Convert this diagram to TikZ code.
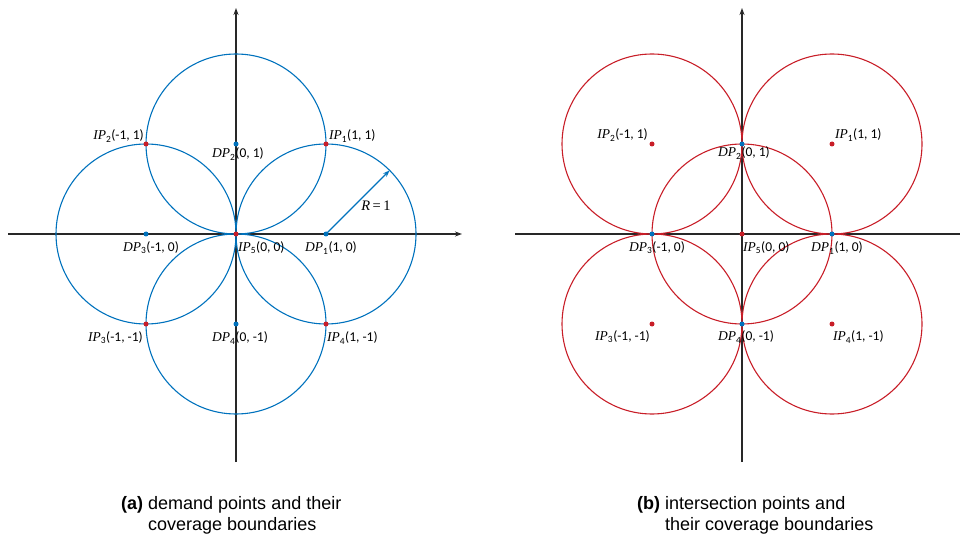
\documentclass[tikz,border=0pt]{standalone}
\usepackage{fontspec}
\setmainfont{Carlito}
\newfontfamily\capfont{Liberation Sans}
\newfontfamily\ifam{Liberation Serif}
\usetikzlibrary{arrows.meta}
\definecolor{cblue}{RGB}{0,114,189}
\definecolor{cred}{RGB}{200,30,40}
\definecolor{axisc}{RGB}{40,40,40}
\newcommand{\plab}[3]{{\ifam\itshape #1}\textsubscript{#2}#3}
\begin{document}
\begin{tikzpicture}[x=1pt,y=-1pt,
  axis/.style={draw=axisc, line width=1.2pt},
  axarrow/.style={-{Stealth[length=7pt,width=5pt]}},
  bcirc/.style={draw=cblue,line width=1.1pt},
  rcirc/.style={draw=cred,line width=1.1pt},
  bdot/.style={circle,fill=cblue,inner sep=0pt,minimum size=5pt},
  rdot/.style={circle,fill=cred,inner sep=0pt,minimum size=5pt},
  lab/.style={font=\fontsize{13.5}{15}\selectfont,inner sep=0pt},
  captxt/.style={font=\capfont\fontsize{18}{22}\selectfont, anchor=base west, inner sep=0pt}]
\useasboundingbox (0,0) rectangle (960,537);

% ---------- left panel ----------
\coordinate (LxS) at (8,234);
\coordinate (LxE) at (462,234);
\coordinate (LyS) at (236,462);
\coordinate (LyE) at (236,8);
\draw[axis,axarrow] (LxS) -- (LxE);
\draw[axis,axarrow] (LyS) -- (LyE);

\coordinate (aDP1) at (326,234);
\coordinate (aDP2) at (236,144);
\coordinate (aDP3) at (146,234);
\coordinate (aDP4) at (236,324);
\foreach \c in {aDP1,aDP2,aDP3,aDP4} \draw[bcirc] (\c) circle[radius=90pt];

\coordinate (aR) at (389.6,170.4);
\draw[draw=cblue,line width=1.1pt,-{Stealth[length=7pt,width=5pt]}] (aDP1) -- (aR);

\node[bdot] (aD1) at (aDP1) {};
\node[bdot] (aD2) at (aDP2) {};
\node[bdot] (aD3) at (aDP3) {};
\node[bdot] (aD4) at (aDP4) {};
\node[rdot] (aI1) at (326,144) {};
\node[rdot] (aI2) at (146,144) {};
\node[rdot] (aI3) at (146,324) {};
\node[rdot] (aI4) at (326,324) {};
\node[rdot] (aI5) at (236,234) {};

\node[lab,anchor=east] (aLI2) at (144,136) {\plab{IP}{2}{(-1, 1)}};
\node[lab,anchor=west] (aLI1) at (329,136) {\plab{IP}{1}{(1, 1)}};
\node[lab] (aLD2) at (238,154) {\plab{DP}{2}{(0, 1)}};
\node[lab] (aLD3) at (151,248) {\plab{DP}{3}{(-1, 0)}};
\node[lab,anchor=west] (aLI5) at (238,248) {\plab{IP}{5}{(0, 0)}};
\node[lab] (aLD1) at (331,248) {\plab{DP}{1}{(1, 0)}};
\node[lab,anchor=east] (aLI3) at (143,338) {\plab{IP}{3}{(-1, -1)}};
\node[lab] (aLD4) at (240,338) {\plab{DP}{4}{(0, -1)}};
\node[lab,anchor=west] (aLI4) at (327,338) {\plab{IP}{4}{(1, -1)}};
\node[lab,font=\ifam\fontsize{14.5}{16}\selectfont] (aLR) at (376,206) {\textit{R}\,=\,1};

\node[captxt,anchor=north west] (capa) at (121,494) {\begin{tabular}{@{}l@{\ }l@{}}\textbf{(a)} & demand points and their\\[-1pt] & coverage boundaries\end{tabular}};

% ---------- right panel ----------
\coordinate (RxS) at (515,234);
\coordinate (RxE) at (960,234);
\coordinate (RyS) at (742,462);
\coordinate (RyE) at (742,8);
\draw[axis] (RxS) -- (RxE);
\draw[axis,axarrow] (RyS) -- (RyE);

\coordinate (bIP1) at (832,144);
\coordinate (bIP2) at (652,144);
\coordinate (bIP3) at (652,324);
\coordinate (bIP4) at (832,324);
\coordinate (bIP5) at (742,234);
\foreach \c in {bIP1,bIP2,bIP3,bIP4,bIP5} \draw[rcirc] (\c) circle[radius=90pt];

\node[rdot] (bI1) at (bIP1) {};
\node[rdot] (bI2) at (bIP2) {};
\node[rdot] (bI3) at (bIP3) {};
\node[rdot] (bI4) at (bIP4) {};
\node[rdot] (bI5) at (bIP5) {};
\node[bdot] (bD1) at (832,234) {};
\node[bdot] (bD2) at (742,144) {};
\node[bdot] (bD3) at (652,234) {};
\node[bdot] (bD4) at (742,324) {};

\node[lab,anchor=east] (bLI2) at (648,135) {\plab{IP}{2}{(-1, 1)}};
\node[lab,anchor=west] (bLI1) at (835,135) {\plab{IP}{1}{(1, 1)}};
\node[lab] (bLD2) at (744,153) {\plab{DP}{2}{(0, 1)}};
\node[lab] (bLD3) at (657,248) {\plab{DP}{3}{(-1, 0)}};
\node[lab,anchor=west] (bLI5) at (743,248) {\plab{IP}{5}{(0, 0)}};
\node[lab] (bLD1) at (837,248) {\plab{DP}{1}{(1, 0)}};
\node[lab,anchor=east] (bLI3) at (650,337) {\plab{IP}{3}{(-1, -1)}};
\node[lab] (bLD4) at (746,337) {\plab{DP}{4}{(0, -1)}};
\node[lab,anchor=west] (bLI4) at (833,337) {\plab{IP}{4}{(1, -1)}};

\node[captxt,anchor=north west] (capb) at (637,494) {\begin{tabular}{@{}l@{\ }l@{}}\textbf{(b)} & intersection points and\\[-1pt] & their coverage boundaries\end{tabular}};
\end{tikzpicture}
\end{document}
